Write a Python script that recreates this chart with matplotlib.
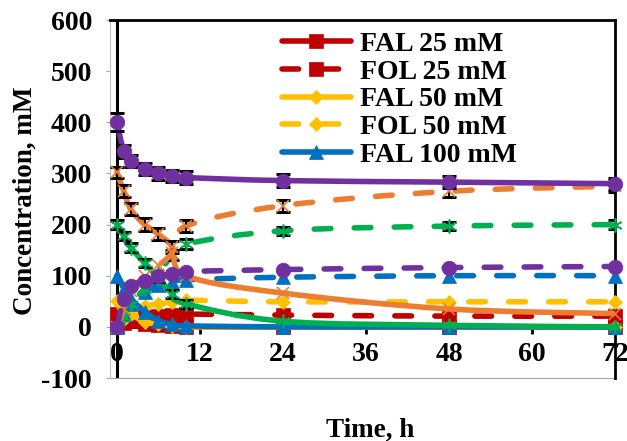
import numpy as np
import matplotlib
matplotlib.use("Agg")
import matplotlib.pyplot as plt
from matplotlib.path import Path
from matplotlib.patches import PathPatch
from matplotlib.lines import Line2D

plt.rcParams["font.family"] = "Liberation Serif"
plt.rcParams["font.weight"] = "bold"
plt.rcParams["axes.unicode_minus"] = False

# sampling times, h
time_h = [0, 1, 2, 4, 6, 8, 10, 24, 48, 72]

fal_25 = [25, 18, 12, 6, 3, 1, 0, 0, 0, 0]
fol_25 = [0, 7, 13, 19, 22, 24, 25, 23, 21, 21]
fal_50 = [50, 35, 25, 10, 5, 2, 0, 0, 0, 0]
fol_50 = [0, 15, 25, 40, 45, 48, 52, 49, 49, 49]
fal_100 = [100, 75, 55, 30, 12, 5, 2, 0, 0, 0]
fol_100 = [0, 25, 45, 68, 82, 88, 92, 97, 100, 100]
fal_200 = [200, 178, 155, 125, 95, 65, 45, 11, 3, 0]
fol_200 = [0, 20, 45, 75, 105, 140, 162, 188, 197, 200]
fal_300 = [302, 265, 230, 200, 181, 156, 100, 66, 35, 26]
fol_300 = [0, 35, 70, 100, 120, 145, 197, 237, 265, 275]
fal_400 = [400, 343, 324, 308, 300, 295, 292, 286, 283, 280]
fol_400 = [0, 55, 80, 90, 100, 103, 108, 112, 116, 118]

# error bars (standard deviation), 0 = no bar
err_200 = [8, 8, 8, 8, 8, 8, 8, 0, 0, 0]
err_fol_200 = [0, 0, 0, 0, 0, 10, 10, 8, 8, 8]
err_300 = [10, 12, 12, 12, 12, 12, 0, 0, 0, 0]
err_fol_300 = [0, 0, 0, 0, 0, 0, 12, 12, 12, 12]
err_400 = [18, 12, 12, 12, 12, 12, 12, 12, 12, 12]

series = [
    ("FAL 25 mM", fal_25, "#C00000", "-", "s", 10, None),
    ("FOL 25 mM", fol_25, "#C00000", "--", "s", 10, None),
    ("FAL 50 mM", fal_50, "#FFC000", "-", "D", 7.5, None),
    ("FOL 50 mM", fol_50, "#FFC000", "--", "D", 7.5, None),
    ("FAL 100 mM", fal_100, "#0070C0", "-", "^", 10, None),
    ("FOL 100 mM", fol_100, "#0070C0", "--", "^", 10, None),
    ("FAL 200 mM", fal_200, "#00B050", "-", (6, 2, 0), 10, err_200),
    ("FOL 200 mM", fol_200, "#00B050", "--", (6, 2, 0), 10, err_fol_200),
    ("FAL 300 mM", fal_300, "#ED7D31", "-", "x", 9, err_300),
    ("FOL 300 mM", fol_300, "#ED7D31", "--", "x", 9, err_fol_300),
    ("FAL 400 mM", fal_400, "#7030A0", "-", "o", 10.5, err_400),
    ("FOL 400 mM", fol_400, "#7030A0", "--", "o", 10.5, None),
]


def smooth_path(x, y):
    # Excel-style smoothed line as cubic Bezier segments
    pts = np.column_stack([x, y]).astype(float)
    n = len(pts)
    verts = [pts[0]]
    codes = [Path.MOVETO]
    for i in range(n - 1):
        p0 = pts[i - 1] if i > 0 else pts[i]
        p1, p2 = pts[i], pts[i + 1]
        p3 = pts[i + 2] if i + 2 < n else pts[i + 1]
        verts += [p1 + (p2 - p0) / 6, p2 - (p3 - p1) / 6, p2]
        codes += [Path.CURVE4] * 3
    return Path(verts, codes)


fig = plt.figure(figsize=(6.27, 4.41), dpi=100)
ax = fig.add_axes([110 / 627, 63 / 441, 505 / 627, 358 / 441])
ax.set_xlim(-1, 72)
ax.set_ylim(-100, 600)

dash = (0, (3, 4.2))
handles = []
for k, (label, vals, color, ls, marker, ms, err) in enumerate(series):
    z = 3 + k
    patch = PathPatch(smooth_path(time_h, vals), facecolor="none",
                      edgecolor=color, lw=4,
                      linestyle=dash if ls == "--" else "-",
                      capstyle="round", joinstyle="round", zorder=z)
    ax.add_patch(patch)
    if err is not None:
        idx = [i for i, e in enumerate(err) if e > 0]
        ax.errorbar([time_h[i] for i in idx], [vals[i] for i in idx],
                    yerr=[err[i] for i in idx], fmt="none", ecolor="black",
                    elinewidth=1.6, capsize=5, capthick=2.2, zorder=z)
    thin = marker in ("x", (6, 2, 0))
    ax.plot(time_h, vals, linestyle="none", marker=marker, ms=ms,
            color=color, mew=1.2 if thin else 0.5, zorder=z + 0.5,
            clip_on=False)
    handles.append(Line2D([], [], color=color, lw=4,
                          linestyle=dash if ls == "--" else "-",
                          marker=marker, ms=ms, mew=0.5,
                          solid_capstyle="round", dash_capstyle="round"))

# axis lines through zero
ax.axvline(0, color="black", lw=2.2, zorder=2)
ax.axhline(0, color="black", lw=2.2, zorder=2)

for s in ("top", "right"):
    ax.spines[s].set_color("black")
    ax.spines[s].set_linewidth(2)
ax.spines["left"].set_color("#BFBFBF")
ax.spines["left"].set_linewidth(0.8)
ax.spines["bottom"].set_position(("data", 0))
ax.spines["bottom"].set_visible(False)
ax.axhline(-100, color="#A6A6A6", lw=0.8, clip_on=False)

ax.set_xticks([0, 12, 24, 36, 48, 60, 72])
ax.set_yticks(range(-100, 601, 100))
ax.tick_params(axis="x", direction="out", length=5, width=2, pad=6,
               labelsize=20, color="black")
ax.tick_params(axis="y", direction="out", length=3, width=0.8, pad=10,
               labelsize=20, color="#A6A6A6")

fig.text(25 / 627, 1 - 201 / 441, "Concentration, mM", rotation=90,
         ha="center", va="center", fontsize=19.5, fontweight="bold")
fig.text(370 / 627, 1 - 430 / 441, "Time, h", ha="center", va="center",
         fontsize=19.5, fontweight="bold")

ax.legend(handles[:5], [s[0] for s in series[:5]], loc="upper left",
          bbox_to_anchor=(0.34, 0.968), frameon=False, fontsize=20,
          handlelength=2.5, handletextpad=0.32, labelspacing=0.08,
          borderpad=0.0, borderaxespad=0)

fig.savefig("out.png", dpi=100)
